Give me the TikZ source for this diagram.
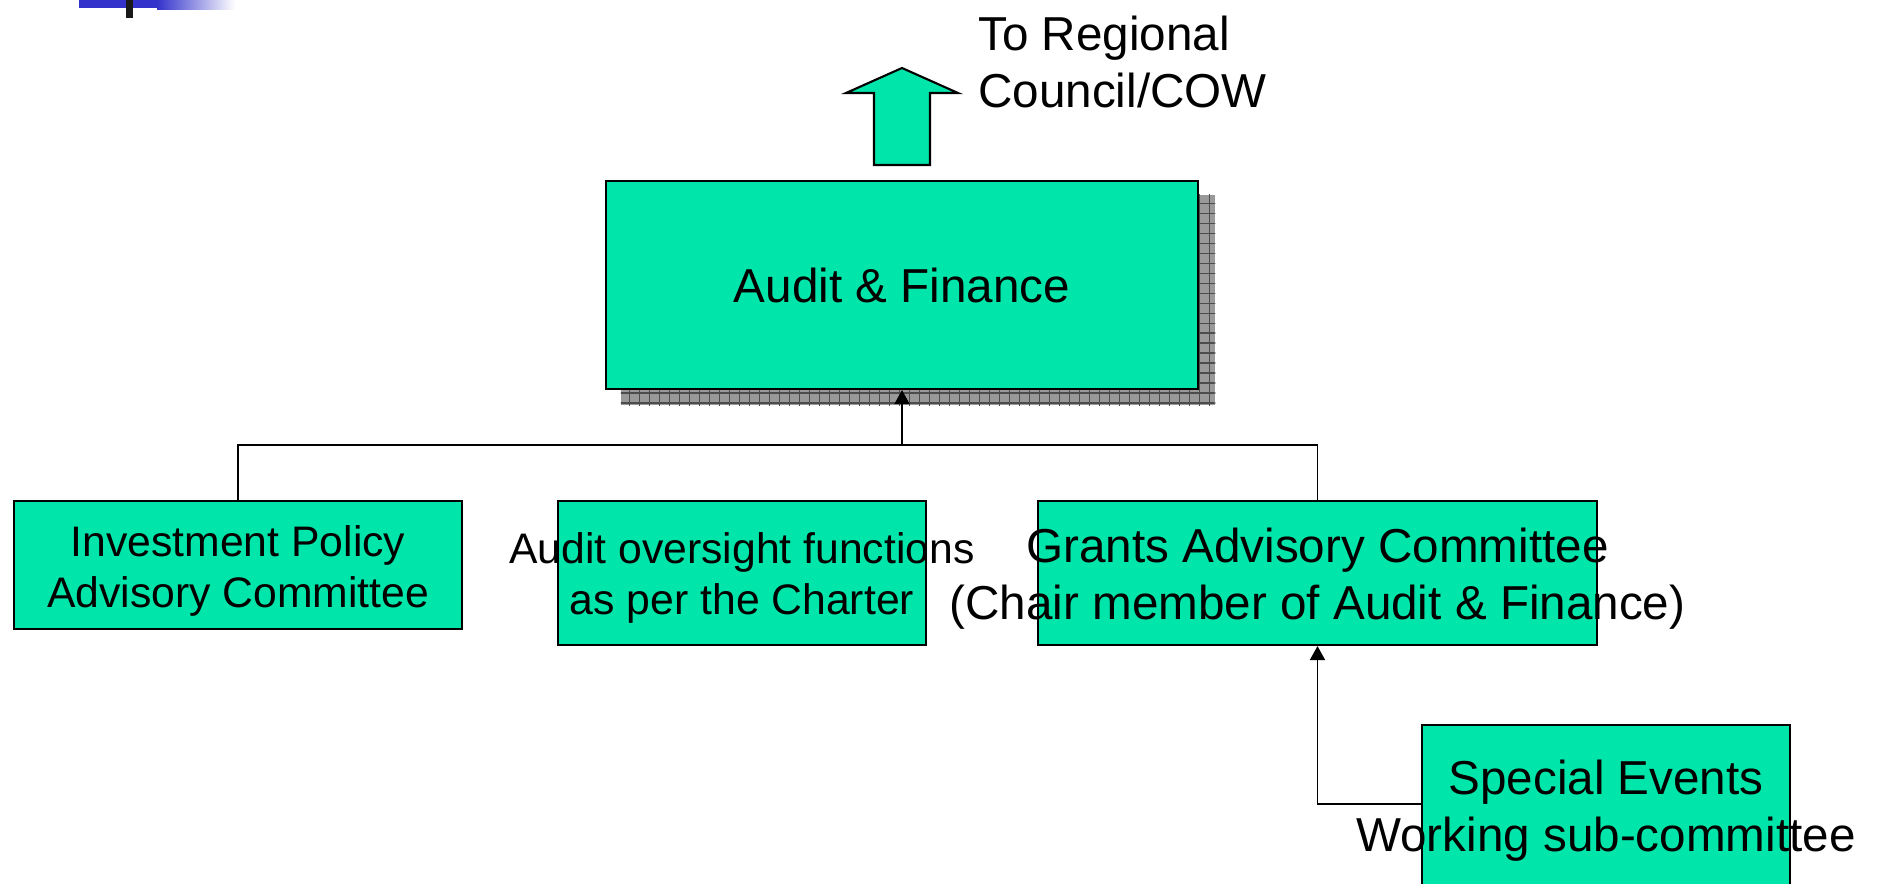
\documentclass[tikz,border=0pt]{standalone}
\usepackage{fontspec}
\setmainfont{Liberation Sans}
\usetikzlibrary{calc,positioning,backgrounds,arrows.meta,patterns.meta}
\definecolor{boxgreen}{RGB}{0,229,170}
\definecolor{topblue}{RGB}{51,51,204}

\begin{document}
\begin{tikzpicture}[x=0.02cm,y=-0.02cm]

\tikzset{greenbox/.style={draw=black,line width=1.2pt,fill=boxgreen,inner sep=0pt,shape=rectangle},
bigtext/.style={font=\fontsize{27.1pt}{32.5pt}\selectfont,align=center,inner sep=0pt},
smalltext/.style={font=\fontsize{24.3pt}{29pt}\selectfont,align=center,inner sep=0pt},
link/.style={line width=0.9pt},
uplink/.style={link,-{Triangle[width=0.3cm,length=0.28cm]}},
gridshadow/.style={fill=black!40,postaction={pattern={Hatch[angle=0,distance=0.2cm,line width=0.7pt]},pattern color=black!70}}}

% Frame
\useasboundingbox (0,0) rectangle (1881,883);
\clip (0,0) rectangle (1881,883);

% Title bar corner
\fill[topblue] (79,0) rectangle (157,8);
\shade[left color=topblue,right color=white] (157,0) rectangle (235,9);
\fill[black!90] (126,0) rectangle (133,18);

% Boxes
\node[greenbox,minimum width=11.85cm,minimum height=4.16cm] (main) at (902,285) {};
\node[greenbox,minimum width=8.96cm,minimum height=2.56cm] (invest) at (238,565) {};
\node[greenbox,minimum width=7.36cm,minimum height=2.88cm] (audit) at (742,573) {};
\node[greenbox,minimum width=11.18cm,minimum height=2.88cm] (grants) at (1317.5,573) {};
\node[greenbox,minimum width=7.36cm,minimum height=3.28cm] (special) at (1606,807) {};

% Shadow of the main box
\begin{scope}[on background layer]
\path[gridshadow] ($(main.south west)+(16,15)$) rectangle ($(main.north east)+(16,15)$);
\end{scope}

% Arrow up to the council
\draw[line width=1.2pt,fill=boxgreen] (874,165) -- (874,93) -- (846,93) -- (902,68) -- (958,93) -- (930,93) -- (930,165) -- cycle;
\node[bigtext,align=left,anchor=west] (council) at (978,62) {To Regional\\Council/COW};

% Edges
\coordinate (bus) at (902,445);
\draw[link] (invest.north) |- (bus) -| (grants.north);
\draw[uplink] (bus) -- (main.south);
\draw[uplink] ([yshift=0.06cm]special.west) -| (grants.south);

% Labels
\node[bigtext] (mainlabel) at (main) {Audit \& Finance};
\node[smalltext] (investlabel) at (238,571) {Investment Policy\\Advisory Committee};
\node[smalltext] (auditlabel) at (742,578) {Audit oversight functions\\as per the Charter};
\node[bigtext] (grantslabel) at (1317.5,579) {Grants Advisory Committee\\(Chair member of Audit \& Finance)};
\node[bigtext] (speciallabel) at (1606,811) {Special Events\\Working sub-committee};

\end{tikzpicture}
\end{document}
